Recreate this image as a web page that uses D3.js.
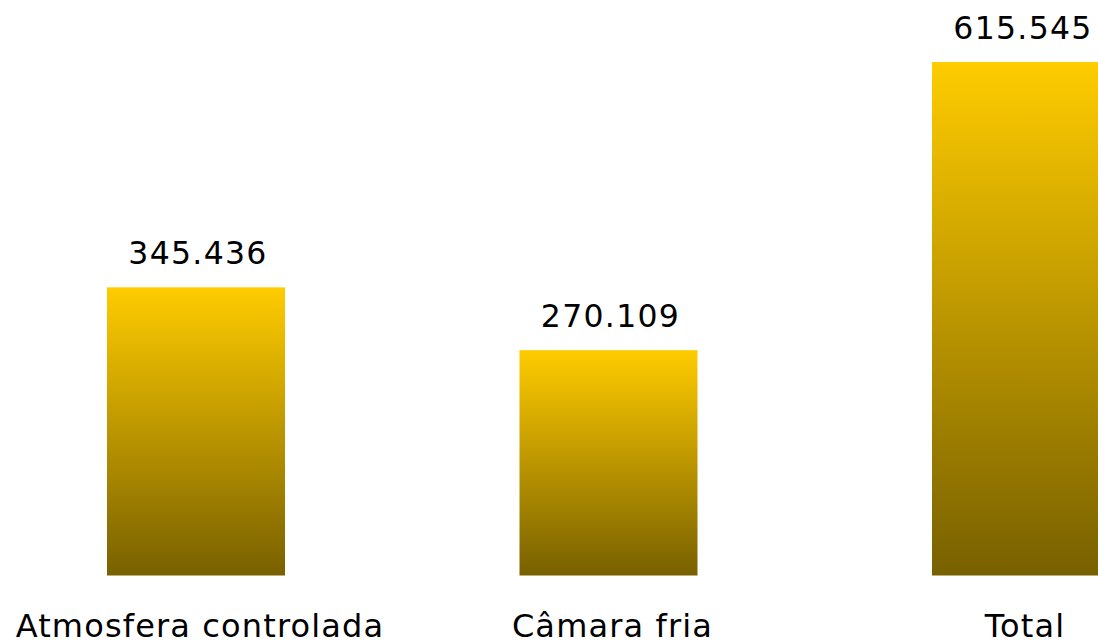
<!DOCTYPE html>
<html><head><meta charset="utf-8">
<script src="https://cdn.jsdelivr.net/npm/d3@7"></script>
<style>html,body{margin:0;padding:0;background:#fff;overflow:hidden}</style>
</head><body>
<svg id="c" width="1098" height="644"></svg>
<script>
const categories = ["Atmosfera controlada", "Câmara fria", "Total"];
const values = [345.436, 270.109, 615.545];
const valueLabels = ["345.436", "270.109", "615.545"];

const svg = d3.select("#c");
const baseY = 575.5;
const x = d3.scaleBand().domain(categories).range([0, 1217]).paddingInner(0.5685).paddingOuter(0.2594);
const y = d3.scaleLinear().domain([0, 615.545]).range([baseY, 62]);

const defs = svg.append("defs");
const g = defs.append("linearGradient").attr("id", "grad").attr("x1", 0).attr("y1", 0).attr("x2", 0).attr("y2", 1);
g.append("stop").attr("offset", "0%").attr("stop-color", "#FFCC00");
g.append("stop").attr("offset", "100%").attr("stop-color", "#786000");

svg.selectAll("rect.bar").data(values).join("rect")
  .attr("class", "bar")
  .attr("x", (d, i) => x(categories[i]))
  .attr("width", x.bandwidth())
  .attr("y", d => y(d))
  .attr("height", d => baseY - y(d))
  .attr("fill", "url(#grad)");

svg.selectAll("text.val").data(values).join("text")
  .attr("class", "val")
  .attr("x", (d, i) => x(categories[i]) + x.bandwidth() / 2 + 2)
  .attr("y", d => y(d) - 23)
  .attr("text-anchor", "middle")
  .style("font-family", "Verdana, 'DejaVu Sans', sans-serif")
  .style("font-size", "31.5px")
  .style("letter-spacing", "1.3px")
  .attr("fill", "#000")
  .text((d, i) => valueLabels[i]);

svg.selectAll("text.cat").data(categories).join("text")
  .attr("class", "cat")
  .attr("x", d => x(d) + x.bandwidth() / 2 + 4)
  .attr("y", 637)
  .attr("text-anchor", "middle")
  .style("font-family", "Verdana, 'DejaVu Sans', sans-serif")
  .style("font-size", "32px")
  .style("letter-spacing", "1.15px")
  .attr("fill", "#000")
  .text(d => d);
</script>
</body></html>
